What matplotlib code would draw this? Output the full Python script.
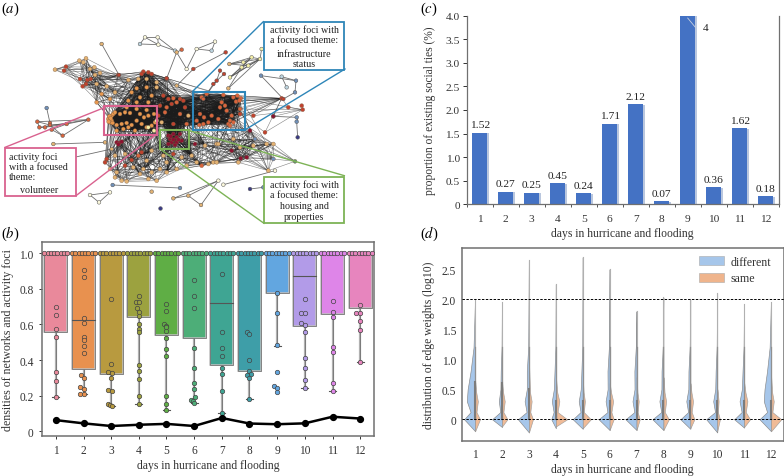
import itertools
import numpy as np
import matplotlib
matplotlib.use("Agg")
import matplotlib.pyplot as plt
from matplotlib.collections import LineCollection
from matplotlib.patches import Rectangle, Patch
import matplotlib.patheffects as pe

plt.rcParams['font.family'] = ['Liberation Serif', 'DejaVu Serif']
plt.rcParams['mathtext.fontset'] = 'stix'

W, H = 784, 477
DAYS = list(range(1, 13))
XLABEL = 'days in hurricane and flooding'

# ---------- panel (a): network, node positions ----------
TAN, ORG, ROR, RED, DRD = '#E2B273', '#E8984F', '#D9653D', '#C0432F', '#8C1231'
PAL, PBL, SBL, NAV, WHT = '#F4EFA8', '#BCD3DE', '#7090B8', '#3A3A85', '#FBF8DC'

upper_left = [(165,212),(198,203),(192,215),(238,185),(258,178),(250,190),(283,205),(270,210),
              (240,240),(262,243),(272,240),(258,255),(248,262),(285,228),(300,222),(355,228),(385,243),
              (290,255),(320,262),(345,280),(305,285),(330,300),(290,310)]
upper_left_c = [TAN,RED,RED,TAN,TAN,TAN,TAN,TAN,RED,RED,RED,RED,RED,TAN,TAN,RED,TAN,TAN,TAN,TAN,ORG,ORG,ORG]
top_mid = [(430,218),(445,220),(425,225),(455,225),(415,240),(440,240),(470,250),(500,238),(410,268),
           (440,265),(470,265),(395,280),(420,295),(455,290),(385,305),(410,310),(445,310)]
top_mid_c = [RED,RED,RED,RED,TAN,TAN,TAN,RED,ORG,ORG,TAN,ORG,ORG,ORG,ORG,ORG,ORG]
volunteer = [(325,360),(330,370),(335,350),(340,345),(328,352),(345,340),(335,365),(360,345),(375,340),
             (390,342),(420,345),(445,350),(462,345),(350,378),(365,375),(380,372),(370,390),(385,385),
             (395,378),(410,365),(425,375),(440,385),(455,380),(432,355),(405,395),(350,395),(465,370),
             (440,333),(410,330),(380,325),(445,385),(462,395),(470,365),(332,358),(338,372),(326,368)]
volunteer_c = [ORG]*30 + [PAL,PAL,PAL] + [ORG]*3
mid_red = [(490,290),(505,300),(520,298),(540,300),(550,305),(530,310),(480,320),(500,325),(515,315),
           (495,340),(555,325),(540,345),(565,350),(485,370),(520,375),(560,375),(475,350)]
mid_red_c = [RED,RED,ROR,RED,RED,ROR,RED,ROR,RED,ROR,RED,ROR,TAN,TAN,RED,ROR,RED]
blue_box = [(605,295),(620,285),(670,288),(700,295),(712,290),(722,298),(708,308),(718,305),(665,310),
            (675,320),(660,325),(680,335),(600,345),(612,355),(590,365),(598,378),(610,375),(625,370),
            (635,350),(690,365),(700,370),(685,375),(695,350),(655,360),(720,330)]
blue_box_c = [ROR]*25
dark_box = [(505,410),(520,405),(540,405),(510,420),(530,415),(515,430),(530,430),(545,425),(505,435),
            (525,438),(512,412),(535,422),(520,422),(350,430),(358,432),(365,428),(355,436),(585,435)]
dark_box_c = [DRD]*18
lower = [(320,480),(345,470),(375,465),(395,483),(415,470),(440,485),(425,460),(455,455),(490,470),
         (500,490),(520,465),(545,475),(575,470),(590,490),(625,495),(640,490),(605,500),(650,435),
         (615,440),(330,510),(350,520),(365,545),(380,547),(400,505),(430,510),(445,540),(470,545),
         (455,520),(500,520),(530,510),(560,500),(345,535),(420,525),(480,510),(375,500),(315,490)]
lower_c = [RED,TAN,TAN,RED,ROR,TAN,RED,TAN,TAN,TAN,RED,TAN,TAN,TAN,TAN,TAN,ROR,TAN,TAN,TAN,TAN,TAN,
           TAN,TAN,TAN,TAN,TAN,TAN,TAN,TAN,TAN,TAN,TAN,TAN,RED,RED]
right_mesh = [(655,435),(700,420),(720,445),(760,440),(800,435),(820,435),(715,490),(650,490),(695,455),
              (740,475),(722,478),(820,480),(885,487),(805,515),(750,395),(765,420)]
right_mesh_c = [TAN,TAN,TAN,TAN,TAN,TAN,TAN,TAN,DRD,DRD,DRD,SBL,'#5F8F70',TAN,DRD,SBL]
right_fan = [(720,345),(760,350),(820,352),(845,298),(865,325),(905,320),(908,332),(795,400),(690,380)]
right_fan_c = [RED,RED,RED,RED,RED,RED,RED,RED,ROR]

# small components: nodes, colours, edges as index pairs
small = [
    ([(420,135),(435,115),(473,115),(475,137),(525,155)], [PBL,WHT,WHT,WHT,PBL], [(0,1),(1,2),(2,3),(1,3),(0,3),(3,4),(2,4)]),
    ([(590,150),(635,155),(645,128),(560,210),(545,152),(530,160),(500,238)], [WHT,PBL,WHT,WHT,ROR,TAN,RED], [(0,1),(1,2),(0,2),(4,5),(5,3),(6,5),(0,3)]),
    ([(688,195),(730,190),(755,175),(780,180),(745,200),(725,205),(690,235),(685,268),(785,150)],
     [TAN,PAL,PAL,PAL,PAL,PAL,PAL,TAN,PAL], [(0,1),(0,2),(0,3),(0,4),(1,2),(1,4),(2,3),(3,4),(5,2),(5,3),(6,2),(6,3),(6,4),(6,5),(7,3),(7,5),(3,8)]),
    ([(677,160),(580,210),(660,215),(672,225),(650,245),(640,255),(610,300),(530,260)], [RED,RED,RED,RED,RED,RED,ROR,TAN], [(0,1),(2,4),(3,5),(4,5),(5,6),(4,6),(1,7)]),
    ([(783,230),(845,233),(888,245),(860,265),(885,280),(850,300)], [SBL,PBL,SBL,PBL,SBL,RED], [(0,2),(1,2),(1,3),(0,5),(2,4),(4,5)]),
    ([(890,355),(890,368),(893,415),(820,352)], [SBL,SBL,NAV,DRD], [(0,1),(1,2),(0,3)]),
    ([(140,327),(150,372),(112,368),(118,385),(135,385),(150,378),(155,392),(188,410),(265,362),(200,375)],
     [SBL,ROR,ROR,ROR,ROR,ROR,ROR,ROR,ROR,ROR], [(0,1),(2,8),(3,8),(4,9),(5,7),(6,7),(7,8),(2,3),(3,4),(4,5),(2,5),(5,9),(6,9),(1,5),(8,9)]),
    ([(160,435),(315,430),(178,485),(335,450)], [TAN,TAN,WHT,TAN], [(0,1),(2,3)]),
    ([(338,558),(540,567),(270,588),(297,610),(330,580),(455,578)], [SBL,SBL,WHT,WHT,WHT,TAN], [(0,1),(2,3),(3,4),(2,4)]),
    ([(520,598),(565,590),(603,618),(655,545),(670,557),(825,515)], [TAN,TAN,TAN,WHT,WHT,WHT], [(0,1),(1,2),(1,3),(2,3),(0,3),(4,5)]),
    ([(750,570),(790,565)], [NAV,SBL], [(0,1)]),
    ([(480,627)], [NAV], []),
    ([(305,135),(357,228)], [TAN,RED], [(0,1)]),
]
groups = [(upper_left, upper_left_c), (top_mid, top_mid_c), (volunteer, volunteer_c), (mid_red, mid_red_c),
          (blue_box, blue_box_c), (dark_box, dark_box_c), (lower, lower_c), (right_mesh, right_mesh_c),
          (right_fan, right_fan_c)]
# (stride, longest edge) within each group
group_inner = [(2,120),(1,100),(1,999),(1,999),(1,999),(2,80),(2,110),(1,140),(3,150)]
# (group, group, stride, longest edge)
group_links = [(0,1,5,170),(0,2,7,130),(1,2,3,150),(1,3,3,140),(2,3,3,170),(3,4,2,200),(2,4,11,260),(2,6,5,160),
               (3,5,2,150),(5,6,4,130),(3,6,6,170),(4,6,13,220),(4,7,7,180),(6,7,5,170),(4,8,3,190),(5,7,7,220),(1,4,7,240)]
# callouts: box, label box, connector ends, colour, text lines (text, x, y, anchor)
callouts = [
    ((312,322,470,407), (15,448,228,590), [((15,445),(315,325)),((228,590),(470,405))], '#D9628F',
     [('activity foci',27,471,'left'),('with a focused',27,501,'left'),('theme:',27,531,'left'),('volunteer',118,571,'center')]),
    ((580,280,736,392), (792,68,1033,212), [((580,275),(790,68)),((736,392),(1035,210))], '#2E86B8',
     [('activity foci with',913,91,'center'),('a focused theme:',913,122,'center'),('infrastructure',913,163,'center'),('status',913,193,'center')]),
    ((480,392,568,450), (792,533,1033,673), [((568,395),(1033,530)),((480,450),(792,673))], '#7DB356',
     [('activity foci with',913,555,'center'),('a focused theme:',913,586,'center'),('housing and',913,620,'center'),('properties',913,651,'center')]),
]

# ---------- panel (b) ----------
box_q1 = [.555,.347,.323,.642,.543,.525,.373,.34,.775,.59,.657,.69]
box_med = [1,.622,1,1,1,1,.722,1,1,.87,1,1]
box_low = [.19,.21,.145,.155,.12,.16,.105,.18,.48,.245,.228,.39]
box_colors = ['#E9899B','#E8914F','#B89A3F','#9CA23F','#5FAE45','#4DAE78','#3FA593','#3E9EA8',
              '#62A6E0','#B29BE8','#DE85E8','#E785BE']
top_offsets = [-.42,-.3,-.18,-.06,.06,.18,.3,.42]
pts_val = [
 [.70,.655,.575,.53,.335,.28,.19],
 [.905,.865,.635,.605,.53,.51,.48,.44,.315,.30,.25,.24,.21,.21],
 [.745,.375,.335,.325,.30,.23,.225,.155,.15,.145],
 [.76,.725,.725,.69,.67,.645,.60,.575,.555,.37,.34,.295,.20,.155],
 [.715,.675,.60,.59,.585,.565,.525,.46,.42,.20,.155,.12],
 [.85,.76,.69,.47,.355,.27,.235,.19,.175,.17,.16],
 [.885,.56,.465,.425,.355,.32,.225,.105],
 [.555,.545,.40,.34,.32,.315,.30,.18],
 [.775,.665,.485,.335,.255,.245,.22],
 [.745,.665,.665,.605,.595,.555,.41,.355,.29,.245],
 [.73,.67,.64,.475,.445,.27,.228],
 [.71,.665,.665,.62,.57,.39],
]
pts_off = [
 [0]*7,
 [0]*8+[-.1,0,-.12,.03,-.13,.03],
 [0,0,-.1,.02,0,-.12,.03,-.12,-.05,.03],
 [0,-.12,0,-.07,0,0,0,0,0,0,0,0,0,0],
 [0,0,-.1,0,-.03,0,0,0,0,0,0,0],
 [0,0,0,0,0,0,0,.02,-.1,-.05,0],
 [0]*8,
 [-.1,0,0,0,.04,-.1,0,0],
 [0,0,0,0,-.12,0,0],
 [0,-.15,0,-.14,0,0,0,0,0,0],
 [0]*7,
 [0,-.15,-.02,0,0,0],
]
net_density = [.063,.045,.03,.037,.042,.03,.075,.044,.04,.045,.082,.072]

# ---------- panel (c) ----------
ties = [1.52,.27,.25,.45,.24,1.71,2.12,.07,4,.36,1.62,.18]
ties_lab = ['1.52','0.27','0.25','0.45','0.24','1.71','2.12','0.07','4','0.36','1.62','0.18']

# ---------- panel (d): half-violin width profiles ----------
knot_y = [0, .12, .3, .5, .8, 1.2]
diff_w0 = [.41,.37,.41,.17,.37,.41,.41,.41,.37,.41,.37,.43]
diff_w3 = [.31,.12,.16,.15,.15,.15,.15,.15,.15,.15,.17,.27]
diff_w5 = [.17,.05,.08,.05,.05,.08,.08,.07,.07,.06,.06,.15]
diff_top = [2.0,1.95,2.65,2.25,2.7,2.5,1.8,2.03,2.0,2.1,1.92,1.95]
diff_bot = [-.2,-.13,-.22,-.15,-.16,-.18,-.18,-.18,-.16,-.22,-.14,-.2]
same_w0 = [.18,.2,.15,.42,.3,.15,.12,.2,.15,.1,.22,.38]
same_w3 = [.1,.1,.1,.13,.08,.13,.08,.1,.1,.05,.12,.1]
same_top = [.62,.6,.9,.7,.65,.6,.7,.7,.6,.5,.6,.7]
same_bot = [-.2,-.12,-.22,-.12,-.15,-.18,-.18,-.18,-.15,-.2,-.13,-.2]
box_top = [.62,.6,.5,.3,.3,.3,.3,.3,.3,.3,.3,.3]

fig = plt.figure(figsize=(W/100, H/100), dpi=100)

def axpx(l, t, r, b):
    return fig.add_axes([l/W, 1-b/H, (r-l)/W, (b-t)/H])

def panel_label(x, y, s):
    fig.text(x/W, 1-y/H, '($\\mathit{%s}$)' % s, fontsize=10.5, va='center', ha='left')

def short(pairs, limit):
    return [(p, q) for p, q in pairs if np.hypot(p[0]-q[0], p[1]-q[1]) <= limit]

def place_labels(ax, xlabel, xsize, ylabel_y, ylabel, ysize, ylabel_x):
    """Axis titles centred on given pixel rows/columns of the figure."""
    ax.set_xlabel(xlabel, fontsize=xsize, color='#333333', va='center')
    ax.set_ylabel(ylabel, fontsize=ysize, color='#333333', va='center')
    x_tr = matplotlib.transforms.blended_transform_factory(ax.transAxes, fig.transFigure)
    y_tr = matplotlib.transforms.blended_transform_factory(fig.transFigure, ax.transAxes)
    ax.xaxis.set_label_coords(.5, 1-ylabel_y/H, transform=x_tr)
    ax.yaxis.set_label_coords(ylabel_x/W, .5, transform=y_tr)

# panel a
axa = axpx(0, 0, 400, 235)
axa.set_xlim(0, 1200); axa.set_ylim(705, 0); axa.axis('off')
segs = []
for (nodes, _), (stride, limit) in zip(groups, group_inner):
    segs += short(list(itertools.combinations(nodes, 2))[::stride], limit)
for a, b, stride, limit in group_links:
    segs += short(list(itertools.product(groups[a][0], groups[b][0]))[::stride], limit)
axa.add_collection(LineCollection(segs, colors='#1c1c1c', linewidths=.4, alpha=.55, zorder=1))
small_segs = []
for nodes, _, edges in small:
    small_segs += [(nodes[i], nodes[j]) for i, j in edges]
axa.add_collection(LineCollection(small_segs, colors='#555555', linewidths=.6, alpha=.85, zorder=1))
for nodes, cols in groups:
    axa.scatter(*zip(*nodes), s=8, c=cols, edgecolors='#7a5a40', linewidths=.25, zorder=2)
for nodes, cols, _ in small:
    axa.scatter(*zip(*nodes), s=7, c=cols, edgecolors='#555555', linewidths=.35, zorder=2)
for (x0, y0, x1, y1), (bx0, by0, bx1, by1), lines, col, texts in callouts:
    axa.add_patch(Rectangle((x0, y0), x1-x0, y1-y0, fill=False, ec=col, lw=1.5, zorder=3))
    for p, q in lines:
        axa.plot(*zip(p, q), color=col, lw=1.0, zorder=3)
    axa.add_patch(Rectangle((bx0, by0), bx1-bx0, by1-by0, fc='white', ec=col, lw=1.3, zorder=4))
    for s, tx, ty, anchor in texts:
        axa.text(tx, ty, s, fontsize=7.2, ha=anchor, va='center', color='#222222', zorder=5)
panel_label(1, 9, 'a')
panel_label(1, 234, 'b')
panel_label(420, 9, 'c')
panel_label(420, 234, 'd')

def style(ax):
    for s in ax.spines.values():
        s.set_color('#707070'); s.set_linewidth(1.1)
    ax.tick_params(labelsize=8.3, colors='#333333', length=2, width=.7, pad=4)

# panel b
axb = axpx(42, 243, 374, 437)
axb.set_xlim(.5, 12.5); axb.set_ylim(-.026, 1.062)
style(axb)
for i, d in enumerate(DAYS):
    c = box_colors[i]
    axb.plot([d, d], [box_low[i], box_q1[i]], color='#b0b0b0', lw=1.6, zorder=1, solid_capstyle='butt')
    axb.plot([d, d], [box_low[i], box_q1[i]], color='#666666', lw=.5, zorder=1)
    axb.plot([d-.13, d+.13], [box_low[i]]*2, color='#555555', lw=.8, zorder=1)
    axb.add_patch(Rectangle((d-.41, box_q1[i]), .82, 1-box_q1[i], fc=c, ec='#c0c0c0', lw=1.1, zorder=2))
    axb.add_patch(Rectangle((d-.41, box_q1[i]), .82, 1-box_q1[i], fill=False, ec='#666666', lw=.5, zorder=2))
    axb.plot([d-.41, d+.41], [box_med[i]]*2, color='#555555', lw=.8, zorder=3)
    axb.plot([d+o for o in top_offsets], [1]*len(top_offsets), 'o', ms=3.2, mfc=c, mec='#444444', mew=.5, zorder=4)
    axb.plot([d+o for o in pts_off[i]], pts_val[i], 'o', ms=3.2, mfc=c, mec='#444444', mew=.5, zorder=4)
axb.plot(DAYS, net_density, '-o', color='black', lw=1.8, ms=4.2, zorder=5)
axb.set_xticks(DAYS)
axb.set_yticks([0,.2,.4,.6,.8,1])
axb.set_yticklabels(['0','0.2','0.4','0.6','0.8','1.0'])
place_labels(axb, XLABEL, 8.4, 466, 'densities of networks and activity foci', 8.6, 8.5)

# panel c
axc = axpx(466.7, 16.7, 778.7, 205.3)
axc.set_xlim(.5, 12.5); axc.set_ylim(0, 4)
bars = axc.bar(DAYS, ties, width=.57, color='#4472C4', zorder=2,
               path_effects=[pe.SimplePatchShadow(offset=(1.5, -.5), shadow_rgbFace='#9db0d0', alpha=.7), pe.Normal()])
axc.spines['top'].set_visible(False)
for s in ['left', 'bottom', 'right']:
    axc.spines[s].set_color('#707070'); axc.spines[s].set_linewidth(.9)
axc.set_yticks(np.arange(0, 4.5, .5))
axc.set_yticklabels(['0','0.5','1.0','1.5','2.0','2.5','3.0','3.5','4.0'])
axc.set_xticks(DAYS)
axc.set_xticks([d-.5 for d in DAYS]+[12.5], minor=True)
axc.tick_params(axis='x', which='major', length=0, labelsize=8.2, colors='#333333', pad=7)
axc.tick_params(axis='x', which='minor', length=2.5, width=.7, color='#555555')
axc.tick_params(axis='y', labelsize=8.2, colors='#333333', length=3, width=.7, pad=2)
for d, v, s in zip(DAYS, ties, ties_lab):
    if s == '4':
        axc.plot([d, d+.3], [3.95, 3.75], color='#c8d0e0', lw=.6, zorder=3)
        axc.text(d+.68, 3.76, s, fontsize=8.2, ha='center', va='center', color='#222222')
    else:
        axc.text(d, v+.07, s, fontsize=8.2, ha='center', va='bottom', color='#222222')
place_labels(axc, XLABEL, 8.4, 234.5, 'proportion of existing social ties (%)', 8.3, 430)

# panel d
axd = axpx(461.7, 249.3, 783.7, 442.3)
axd.set_xlim(.5, 12.47); axd.set_ylim(-.367, 2.85)
style(axd)
BLUE, ORNG = '#A6C6EA', '#EFB48C'
for i, d in enumerate(DAYS):
    dy = [diff_bot[i]] + knot_y + [diff_top[i]]
    dw = [0, diff_w0[i], diff_w3[i]*.55, diff_w3[i], diff_w3[i]*.9 if i in (0, 11) else diff_w3[i]*.5, diff_w5[i], diff_w5[i]*.35, .006]
    axd.fill_betweenx(dy, d-np.array(dw), d, fc=BLUE, ec='#888888', lw=.45, zorder=2)
    sy = [same_bot[i], 0, .12, .3, .45, same_top[i]]
    sw = [0, same_w0[i], same_w3[i]*.5, same_w3[i], same_w3[i]*.4, .006]
    axd.fill_betweenx(sy, d, d+np.array(sw), fc=ORNG, ec='#999999', lw=.45, alpha=.9, zorder=2)
    axd.plot([d, d], [0, diff_top[i]], color='#b0b0b0', lw=.8, zorder=3)
    axd.plot([d, d], [0, 1.2], color='#909090', lw=.9, zorder=3)
    axd.plot([d, d], [-.0, box_top[i]], color='#7c7c7c', lw=1.5, zorder=3)
axd.axhline(0, color='black', lw=.7, ls=(0, (2.5, 1.5)), zorder=4)
axd.axhline(2, color='black', lw=.7, ls=(0, (2.5, 1.5)), zorder=4)
axd.set_xticks(DAYS)
axd.set_yticks([0,.5,1,1.5,2,2.5])
axd.set_yticklabels(['0','0.5','1.0','1.5','2.0','2.5'])
axd.tick_params(length=0, pad=5)
axd.tick_params(axis='y', pad=4)
place_labels(axd, XLABEL, 8.4, 470, 'distribution of edge weights (log10)', 8.4, 429)
axd.legend(handles=[Patch(fc=BLUE, ec='#aaaaaa', lw=.4, label='different'), Patch(fc=ORNG, ec='#aaaaaa', lw=.4, label='same')],
           loc='upper right', frameon=False, fontsize=8.6, handlelength=2.1, handleheight=.8,
           labelspacing=.35, borderaxespad=.25, labelcolor='#333333', handletextpad=.55,
           bbox_to_anchor=(.985, 1.0))

fig.savefig('out.png', dpi=100)
